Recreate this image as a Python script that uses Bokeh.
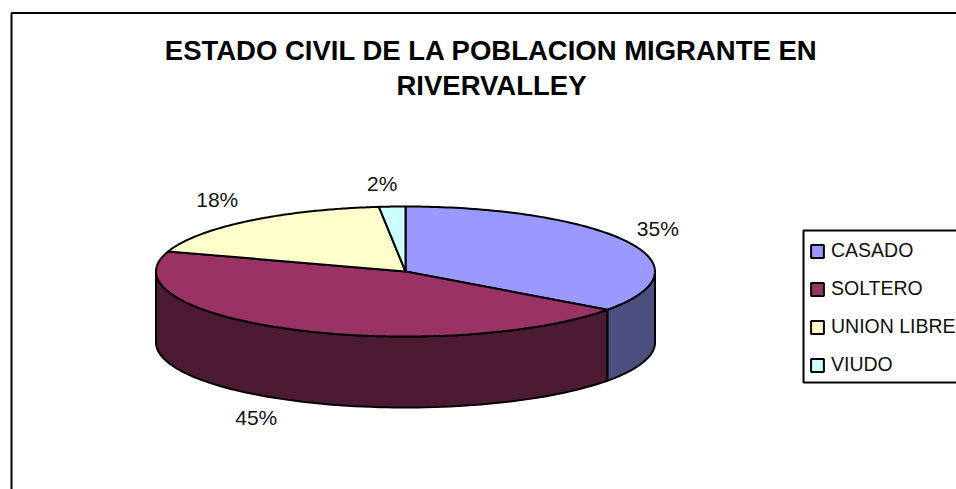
import numpy as np
from bokeh.plotting import figure
from bokeh.models import Range1d, Legend, LegendItem
from bokeh.core.properties import value
from bokeh.embed import file_html
from bokeh.resources import INLINE

categories = ["CASADO", "SOLTERO", "UNION LIBRE", "VIUDO"]
shares = [35.0, 45.0, 18.3, 1.7]
shown_labels = ["35%", "45%", "18%", "2%"]
top_colors = ["#9999FF", "#993366", "#FFFFCC", "#CCFFFF"]
side_colors = ["#4D4D80", "#4D1A33", "#80806A", "#6A8080"]
title_lines = ["ESTADO CIVIL DE LA POBLACION MIGRANTE EN", "RIVERVALLEY"]

CX, CY, RX, RY, DEPTH = 405.0, 271.0, 249.5, 65.0, 71.0
FONT = "Liberation Sans"
LABEL_OFFSET = [(30, -13), (-36, 88), (-31, -22), (-10, -23)]

p = figure(width=956, height=489, output_backend="svg", toolbar_location=None,
           x_range=Range1d(0, 956), y_range=Range1d(489, 0),
           min_border=0, outline_line_color=None, background_fill_color="white")
p.xaxis.visible = False
p.yaxis.visible = False
p.grid.visible = False


def pt(t, dy=0.0):
    return CX + RX * np.sin(t), CY - RY * np.cos(t) + dy


# frame of the chart area and the legend box
p.line([11, 11, 956], [489, 12.5, 12.5], line_color="black", line_width=2)
p.line([956, 803, 803, 956], [230, 230, 382, 382], line_color="black", line_width=2)

edges = np.cumsum([0.0] + shares) / sum(shares) * 2 * np.pi

# side wall: only the front half of the disc (pi/2 .. 3pi/2) is visible
for a, b, col in zip(edges[:-1], edges[1:], side_colors):
    lo, hi = max(a, np.pi / 2), min(b, 3 * np.pi / 2)
    if lo >= hi:
        continue
    t = np.linspace(lo, hi, 80)
    x, y = pt(t)
    xb, yb = pt(t[::-1], DEPTH)
    p.patch(np.r_[x, xb], np.r_[y, yb], fill_color=col, line_color="black", line_width=2)

# top face
tops = []
for a, b, col in zip(edges[:-1], edges[1:], top_colors):
    t = np.linspace(a, b, 120)
    x, y = pt(t)
    tops.append(p.patch(np.r_[CX, x], np.r_[CY, y], fill_color=col, line_color="black", line_width=2))

# percentage labels, placed from each slice's mid-angle
for a, b, lab, (dx, dy) in zip(edges[:-1], edges[1:], shown_labels, LABEL_OFFSET):
    x, y = pt((a + b) / 2)
    p.text([x + dx], [y + dy], text=[lab], text_font=value(FONT), text_font_size="21px",
           text_align="center", text_baseline="middle", text_color="#111111")

for line, y in zip(title_lines, [50, 85]):
    p.text([491], [y], text=[line], text_font=value(FONT), text_font_size="27.5px",
           text_font_style="bold", text_align="center", text_baseline="middle", text_color="black")

legend = Legend(items=[LegendItem(label=c, renderers=[r]) for c, r in zip(categories, tops)],
                location=(809, 113), orientation="vertical",
                label_text_font=FONT, label_text_font_size="19.5px", label_text_color="#111111",
                glyph_width=16, glyph_height=16, spacing=15, padding=5, margin=0,
                label_standoff=6, border_line_color=None,
                background_fill_alpha=0.0, click_policy="none")
p.add_layout(legend, "center")

open("out.html", "w").write(file_html(p, INLINE))
